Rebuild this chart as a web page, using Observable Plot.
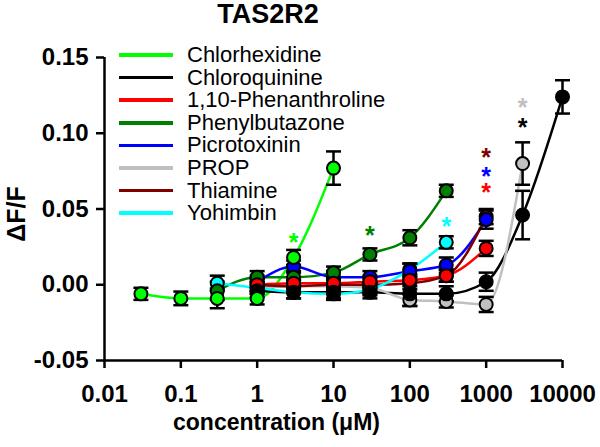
<!DOCTYPE html>
<html><head><meta charset="utf-8">
<script src="https://cdn.jsdelivr.net/npm/d3@7"></script>
<script src="https://cdn.jsdelivr.net/npm/@observablehq/plot@0.6"></script>
<style>
body{margin:0;background:#fff;font-family:"Liberation Sans",Arial,sans-serif;}
#wrap{position:relative;width:600px;height:447px;overflow:hidden;}
#title{position:absolute;top:1px;left:0;width:536px;text-align:center;font-weight:bold;font-size:27px;line-height:27px;}
#legend{position:absolute;left:119px;top:43.7px;}
.row{height:22.6px;display:flex;align-items:center;font-size:22px;white-space:nowrap;}
.sw{width:54px;height:3.5px;margin-right:14px;}
</style></head>
<body><div id="wrap"><div id="title">TAS2R2</div><div id="legend"></div></div>
<script>
const compounds = ["Chlorhexidine","Chloroquinine","1,10-Phenanthroline","Phenylbutazone","Picrotoxinin","PROP","Thiamine","Yohimbin"];
const colors = ["#00ff00","#000000","#ff0000","#008000","#0000ff","#c0c0c0","#800000","#00ffff"];

const concentrations = [
  [0.03, 0.1, 0.3, 1, 3, 10],
  [1, 3, 10, 30, 100, 300, 1000, 3000, 10000],
  [1, 3, 10, 30, 100, 300, 1000],
  [0.3, 1, 3, 10, 30, 100, 300],
  [1, 3, 10, 30, 100, 300, 1000],
  [1, 3, 10, 30, 100, 300, 1000, 3000],
  [1, 3, 10, 30, 100, 300, 1000],
  [0.3, 1, 3, 10, 30, 100, 300]
];
const means = [
  [-0.006, -0.009, -0.009, -0.009, 0.018, 0.077],
  [-0.004, -0.005, -0.005, -0.005, -0.006, -0.006, 0.002, 0.046, 0.124],
  [0.000, 0.001, 0.001, 0.002, 0.003, 0.006, 0.024],
  [-0.004, 0.005, 0.005, 0.008, 0.020, 0.031, 0.062],
  [0.002, 0.012, 0.005, 0.005, 0.009, 0.013, 0.043],
  [-0.002, -0.001, -0.001, -0.002, -0.010, -0.011, -0.013, 0.080],
  [0.000, -0.001, 0.000, 0.000, 0.001, 0.006, 0.045],
  [0.001, -0.002, -0.005, -0.006, -0.003, 0.010, 0.028]
];
const sems = [
  [0.004, 0.0045, 0.0065, 0.004, 0.005, 0.011],
  [0.004, 0.004, 0.004, 0.004, 0.008, 0.005, 0.006, 0.016, 0.011],
  [0.004, 0.004, 0.004, 0.004, 0.004, 0.004, 0.005],
  [0.006, 0.004, 0.004, 0.004, 0.004, 0.005, 0.004],
  [0.004, 0.004, 0.004, 0.004, 0.005, 0.005, 0.006],
  [0.004, 0.004, 0.004, 0.004, 0.004, 0.004, 0.005, 0.014],
  [0.004, 0.004, 0.004, 0.004, 0.004, 0.004, 0.005],
  [0.005, 0.004, 0.004, 0.004, 0.004, 0.004, 0.004]
];

const starConc = [3, 30, 300, 1000, 1000, 1000, 3000, 3000];
const starValue = [0.030, 0.035, 0.041, 0.063, 0.074, 0.086, 0.119, 0.106];
const starCompound = ["Chlorhexidine","Phenylbutazone","Yohimbin","1,10-Phenanthroline","Picrotoxinin","Thiamine","PROP","Chloroquinine"];

const xTicks = [0.01, 0.1, 1, 10, 100, 1000, 10000];
const yTicks = [-0.05, 0, 0.05, 0.10, 0.15];

const rows = [];
compounds.forEach((name, i) => concentrations[i].forEach((c, j) =>
  rows.push({name, i, c, m: means[i][j], s: sems[i][j]})));
const rowsDrawn = rows.slice().sort((a, b) => b.i - a.i);
const stars = starConc.map((c, k) => ({c, v: starValue[k], name: starCompound[k]}));

const cap = {draw(ctx) { ctx.moveTo(-7.5, 0); ctx.lineTo(7.5, 0); }};

const chart = Plot.plot({
  width: 600, height: 447,
  marginLeft: 104, marginRight: 38, marginTop: 57, marginBottom: 87,
  style: {fontFamily: "Liberation Sans, Arial, sans-serif", background: "white", overflow: "visible"},
  x: {type: "log", domain: [0.01, 10000]},
  y: {domain: [-0.05, 0.15]},
  color: {domain: compounds, range: colors},
  marks: [
    Plot.axisX({ticks: xTicks, tickFormat: d => String(d), tickSize: 8, tickPadding: 16, strokeWidth: 2.5,
      fontSize: 24, fontWeight: "bold", label: null, fill: "black"}),
    Plot.axisY({ticks: yTicks, tickFormat: d => d.toFixed(2), tickSize: 8, tickPadding: 8, strokeWidth: 2.5,
      fontSize: 24, fontWeight: "bold", label: null, fill: "black"}),
    Plot.ruleX([0.01], {y1: -0.05, y2: 0.15, strokeWidth: 2.5}),
    Plot.ruleY([-0.05], {x1: 0.01, x2: 10000, strokeWidth: 2.5}),
    Plot.line(rows, {x: "c", y: "m", z: "name", stroke: "name", curve: "monotone-x", strokeWidth: 2.5}),
    Plot.ruleX(rowsDrawn, {x: "c", y1: d => d.m - d.s, y2: d => d.m + d.s, stroke: "black", strokeWidth: 2.5}),
    Plot.dot(rowsDrawn, {x: "c", y: d => d.m + d.s, symbol: cap, stroke: "black", strokeWidth: 2.5, fill: "none"}),
    Plot.dot(rowsDrawn, {x: "c", y: d => d.m - d.s, symbol: cap, stroke: "black", strokeWidth: 2.5, fill: "none"}),
    Plot.dot(rowsDrawn, {x: "c", y: "m", fill: "name", stroke: "black", strokeWidth: 2, r: 6.5}),
    Plot.text(stars, {x: "c", y: "v", text: () => "*", fill: "name", fontSize: 25, fontWeight: "bold", dy: 4}),
    Plot.text(["ΔF/F"], {frameAnchor: "left", dx: -88, dy: 5, rotate: -90, textAnchor: "middle", lineAnchor: "middle",
      fontSize: 25, fontWeight: "bold", fill: "black"}),
    Plot.text(["concentration (μM)"], {frameAnchor: "bottom", dx: -57, dy: 62, textAnchor: "middle", lineAnchor: "middle",
      fontSize: 23, fontWeight: "bold", fill: "black"})
  ]
});
const wrap = document.getElementById("wrap");
wrap.insertBefore(chart, wrap.firstChild);

const legend = document.getElementById("legend");
compounds.forEach((name, i) => {
  const row = document.createElement("div");
  row.className = "row";
  const sw = document.createElement("div");
  sw.className = "sw";
  sw.style.background = colors[i];
  const label = document.createElement("span");
  label.textContent = name;
  row.appendChild(sw);
  row.appendChild(label);
  legend.appendChild(row);
});
</script>
</body></html>
